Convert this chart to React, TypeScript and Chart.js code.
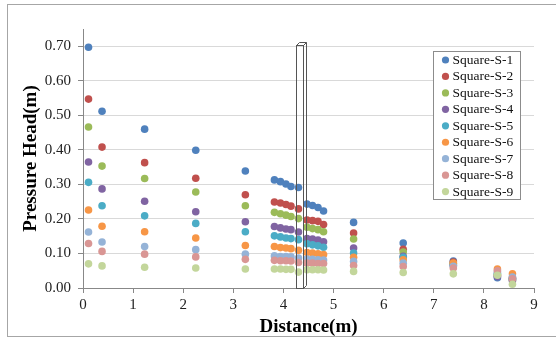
import React, { useEffect, useRef } from "react";
import { Chart, registerables } from "chart.js";

Chart.register(...registerables);

const distances = [0.11, 0.38, 1.23, 2.25, 3.24, 3.82, 3.94, 4.05, 4.15, 4.3, 4.47, 4.58, 4.69, 4.8, 5.4, 6.39, 7.39, 8.27, 8.57];

const s1 = [0.697, 0.512, 0.46, 0.399, 0.339, 0.313, 0.308, 0.301, 0.294, 0.291, 0.243, 0.239, 0.233, 0.223, 0.19, 0.13, 0.078, 0.03, 0.026];
const s2 = [0.547, 0.408, 0.363, 0.318, 0.27, 0.249, 0.246, 0.242, 0.237, 0.229, 0.197, 0.195, 0.193, 0.184, 0.159, 0.112, 0.075, 0.036, 0.03];
const s3 = [0.466, 0.353, 0.317, 0.278, 0.238, 0.219, 0.215, 0.211, 0.207, 0.201, 0.176, 0.172, 0.169, 0.163, 0.142, 0.104, 0.071, 0.04, 0.024];
const s4 = [0.365, 0.287, 0.251, 0.221, 0.192, 0.178, 0.174, 0.171, 0.169, 0.162, 0.143, 0.142, 0.139, 0.134, 0.116, 0.092, 0.066, 0.033, 0.022];
const s5 = [0.306, 0.238, 0.209, 0.187, 0.163, 0.151, 0.148, 0.145, 0.143, 0.14, 0.128, 0.125, 0.122, 0.118, 0.101, 0.089, 0.068, 0.042, 0.028];
const s6 = [0.226, 0.179, 0.163, 0.145, 0.123, 0.12, 0.117, 0.116, 0.114, 0.109, 0.103, 0.101, 0.099, 0.097, 0.089, 0.082, 0.072, 0.055, 0.041];
const s7 = [0.162, 0.133, 0.12, 0.111, 0.098, 0.093, 0.091, 0.091, 0.09, 0.087, 0.084, 0.083, 0.082, 0.081, 0.077, 0.072, 0.063, 0.046, 0.032];
const s8 = [0.129, 0.106, 0.098, 0.09, 0.083, 0.08, 0.079, 0.079, 0.078, 0.074, 0.072, 0.072, 0.071, 0.071, 0.065, 0.062, 0.058, 0.05, 0.027];
const s9 = [0.07, 0.064, 0.06, 0.058, 0.055, 0.055, 0.055, 0.054, 0.054, 0.046, 0.053, 0.053, 0.053, 0.052, 0.048, 0.045, 0.041, 0.037, 0.011];

const seriesNames = ["Square-S-1", "Square-S-2", "Square-S-3", "Square-S-4", "Square-S-5", "Square-S-6", "Square-S-7", "Square-S-8", "Square-S-9"];
const seriesValues = [s1, s2, s3, s4, s5, s6, s7, s8, s9];
const seriesColors = ["#4F81BD", "#C0504D", "#9BBB59", "#8064A2", "#4BACC6", "#F79646", "#95B3D7", "#D99694", "#C3D69B"];

const yTicks = [0, 0.1, 0.2, 0.3, 0.4, 0.5, 0.6, 0.7];

// pillar annotation (data units)
const PILLAR_X0 = 4.25;
const PILLAR_X1 = 4.39;
const PILLAR_TOP = 0.705;

const FONT = "'Liberation Serif', 'Times New Roman', serif";

const framePlugin = {
  id: "frame",
  afterDraw(chart: any) {
    const ctx = chart.ctx;
    ctx.save();
    ctx.strokeStyle = "#a6a6a6";
    ctx.lineWidth = 1;
    ctx.strokeRect(7.5, 4.5, 600, 332);
    ctx.restore();
  },
};

const pillarPlugin = {
  id: "pillar",
  afterDatasetsDraw(chart: any) {
    const xs = chart.scales.x;
    const ys = chart.scales.y;
    const ctx = chart.ctx;
    const x0 = Math.round(xs.getPixelForValue(PILLAR_X0)) + 0.5;
    const x1 = Math.round(xs.getPixelForValue(PILLAR_X1)) + 0.5;
    const yT = Math.round(ys.getPixelForValue(PILLAR_TOP)) + 0.5;
    const yB = Math.round(ys.getPixelForValue(0)) + 0.5;
    const d = 3;
    ctx.save();
    ctx.strokeStyle = "#555";
    ctx.lineWidth = 1;
    ctx.strokeRect(x0, yT, x1 - x0, yB - yT);
    ctx.beginPath();
    ctx.moveTo(x0, yT);
    ctx.lineTo(x0 + d, yT - d);
    ctx.lineTo(x1 + d, yT - d);
    ctx.lineTo(x1, yT);
    ctx.moveTo(x1 + d, yT - d);
    ctx.lineTo(x1 + d, yB - d);
    ctx.lineTo(x1, yB);
    ctx.stroke();
    ctx.restore();
  },
};

const legendPlugin = {
  id: "customLegend",
  afterDraw(chart: any) {
    const ctx = chart.ctx;
    const bx = 433.5, by = 51.5, bw = 87, bh = 148;
    ctx.save();
    ctx.fillStyle = "#fff";
    ctx.fillRect(bx, by, bw, bh);
    ctx.strokeStyle = "#8c8c8c";
    ctx.lineWidth = 1;
    ctx.strokeRect(bx, by, bw, bh);
    ctx.font = "13.5px " + FONT;
    ctx.textBaseline = "middle";
    ctx.textAlign = "left";
    seriesNames.forEach((name, i) => {
      const cy = 60 + i * 16.45;
      ctx.fillStyle = seriesColors[i];
      ctx.beginPath();
      ctx.arc(445.5, cy, 3.6, 0, Math.PI * 2);
      ctx.fill();
      ctx.fillStyle = "#111";
      ctx.fillText(name, 452.5, cy + 0.5);
    });
    ctx.restore();
  },
};

export default function App() {
  const ref = useRef<HTMLCanvasElement>(null);
  useEffect(() => {
    if (!ref.current) return;
    const datasets = seriesValues.map((vals, i) => ({
      label: seriesNames[i],
      data: distances.map((x, j) => ({ x, y: vals[j] })),
      backgroundColor: seriesColors[i],
      borderColor: seriesColors[i],
      pointRadius: 3.8,
      pointBorderWidth: 0,
      showLine: false,
      order: seriesValues.length - i,
    }));
    const chart = new Chart(ref.current, {
      type: "scatter",
      data: { datasets },
      options: {
        responsive: false,
        animation: false,
        events: [],
        layout: { padding: { left: 8, right: 22, top: 29, bottom: 4 } },
        plugins: { legend: { display: false }, tooltip: { enabled: false } },
        scales: {
          x: {
            type: "linear",
            min: 0,
            max: 9,
            ticks: { stepSize: 1, color: "#222", font: { family: FONT, size: 15 }, padding: 3 },
            grid: { drawOnChartArea: false, drawTicks: true, tickLength: 5, tickColor: "#888" },
            border: { color: "#888" },
            title: {
              display: true,
              text: "Distance(m)",
              color: "#000",
              font: { family: FONT, size: 19, weight: "bold" },
              padding: { top: 0, bottom: 5 },
            },
            afterFit: (s: any) => {
              s.height = 55;
            },
          },
          y: {
            type: "linear",
            min: 0,
            max: 0.75,
            afterBuildTicks: (s: any) => {
              s.ticks = yTicks.map((v) => ({ value: v }));
            },
            ticks: {
              color: "#222",
              font: { family: FONT, size: 15 },
              padding: 7,
              callback: (v: any) => Number(v).toFixed(2),
            },
            grid: { color: "#d9d9d9", tickColor: "#888", tickLength: 5, drawTicks: true },
            border: { color: "#888" },
            title: {
              display: true,
              text: "Pressure Head(m)",
              color: "#000",
              font: { family: FONT, size: 19, weight: "bold" },
              padding: { top: 12, bottom: 0 },
            },
            afterFit: (s: any) => {
              s.width = 75;
            },
          },
        },
      },
      plugins: [pillarPlugin, legendPlugin, framePlugin],
    } as any);
    return () => chart.destroy();
  }, []);
  return (
    <div style={{ position: "fixed", left: 0, top: 0, width: 556, height: 347, background: "#fff" }}>
      <canvas ref={ref} width={556} height={347} style={{ display: "block" }} />
    </div>
  );
}
